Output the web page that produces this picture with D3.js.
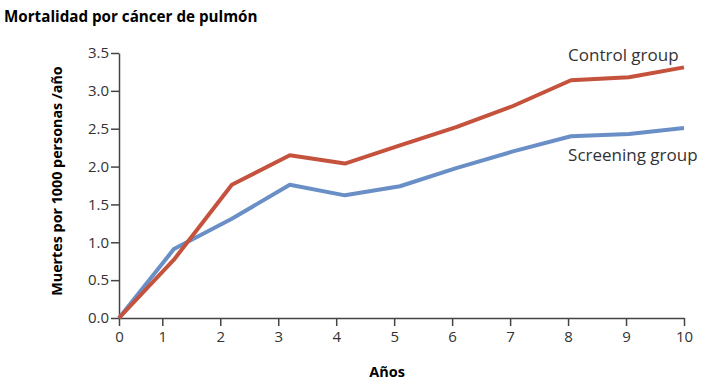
<!DOCTYPE html>
<html lang="es">
<head>
<meta charset="UTF-8">
<title>Mortalidad por cáncer de pulmón</title>
<script src="https://cdn.jsdelivr.net/npm/d3@7"></script>
<style>
  body { margin: 0; background: #fff; }
  .tick text { font-family: "Open Sans", sans-serif; font-size: 15px; fill: #333; }
  .ttl { font-family: "Open Sans", "Liberation Sans", sans-serif; font-weight: bold; fill: #000; }
  .lbl { font-family: "Open Sans", sans-serif; font-size: 17px; fill: #333; }
</style>
</head>
<body>
<script>
// years at which the values were recorded (points sit a bit past the ticks)
const years = [0, 1.2, 2.2, 3.2, 4.15, 5.1, 6.07, 7.05, 8.05, 9.05, 10];
const control = [0, 0.77, 1.76, 2.15, 2.04, 2.28, 2.52, 2.8, 3.14, 3.18, 3.31];
const screening = [0, 0.91, 1.31, 1.76, 1.62, 1.74, 1.98, 2.2, 2.4, 2.43, 2.51];
const xTicks = [0, 1, 2, 3, 4, 5, 6, 7, 8, 9, 10];
const yTicks = [0, 0.5, 1, 1.5, 2, 2.5, 3, 3.5];

const width = 703, height = 388;
const margin = { top: 53, right: 19, bottom: 70, left: 119 };
const w = width - margin.left - margin.right;
const h = height - margin.top - margin.bottom;

const svg = d3.select("body").append("svg")
  .attr("width", width)
  .attr("height", height);

const g = svg.append("g")
  .attr("transform", "translate(" + margin.left + "," + margin.top + ")");

// the gap between 0 and 1 is shorter than the rest on the original
const x = d3.scaleLinear().domain([0, 1, 10]).range([0, 43.3, w]);
const y = d3.scaleLinear().domain([0, 3.5]).range([h, 0]);

const xAxis = g.append("g")
  .attr("transform", "translate(0," + h + ")")
  .call(d3.axisBottom(x).tickValues(xTicks).tickFormat(d3.format("d")).tickSize(8).tickSizeOuter(0));
const yAxis = g.append("g")
  .call(d3.axisLeft(y).tickValues(yTicks).tickFormat(d3.format(".1f")).tickSize(8).tickSizeOuter(0));

[xAxis, yAxis].forEach(a => {
  a.select(".domain").attr("stroke", "#444").attr("stroke-width", 1.5);
  a.selectAll(".tick line").attr("stroke", "#444").attr("stroke-width", 1.5);
});
xAxis.selectAll(".tick text").attr("dy", "0.85em");
yAxis.selectAll(".tick text").attr("x", -10);

const line = d3.line()
  .x((d, i) => x(years[i]))
  .y(d => y(d));

g.append("path")
  .datum(screening)
  .attr("fill", "none")
  .attr("stroke", "#6a8fc7")
  .attr("stroke-width", 4)
  .attr("stroke-linejoin", "round")
  .attr("d", line);

g.append("path")
  .datum(control)
  .attr("fill", "none")
  .attr("stroke", "#c4523d")
  .attr("stroke-width", 4)
  .attr("stroke-linejoin", "round")
  .attr("d", line);

// series labels
g.append("text").attr("class", "lbl")
  .attr("x", x(8)).attr("y", y(3.4))
  .text("Control group");
g.append("text").attr("class", "lbl")
  .attr("x", x(8)).attr("y", y(2.07))
  .text("Screening group");

// titles
svg.append("text").attr("class", "ttl")
  .attr("x", 4).attr("y", 22)
  .style("font-size", "15.2px")
  .text("Mortalidad por cáncer de pulmón");

svg.append("text").attr("class", "ttl")
  .attr("transform", "translate(62,181) rotate(-90)")
  .attr("text-anchor", "middle")
  .style("font-size", "14.3px")
  .text("Muertes por 1000 personas /año");

svg.append("text").attr("class", "ttl")
  .attr("x", 387).attr("y", 377)
  .attr("text-anchor", "middle")
  .style("font-size", "14.5px")
  .text("Años");
</script>
</body>
</html>
